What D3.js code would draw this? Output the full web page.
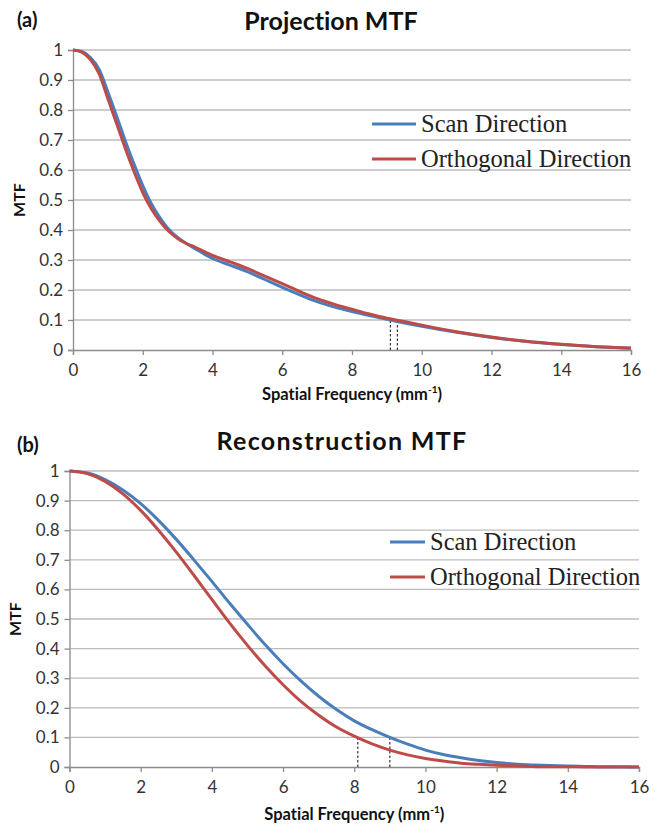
<!DOCTYPE html>
<html>
<head>
<meta charset="utf-8">
<script src="https://cdn.jsdelivr.net/npm/d3@7"></script>
<style>
  html, body { margin: 0; padding: 0; background: #fff; }
  svg { display: block; }
  text { font-variant-ligatures: none; font-feature-settings: "liga" 0, "clig" 0; }
</style>
</head>
<body>
<svg id="chart" width="662" height="830"></svg>
<script>
// ---------------- DATA ----------------
const xTicks = [0, 2, 4, 6, 8, 10, 12, 14, 16];
const yTicks = [0, 0.1, 0.2, 0.3, 0.4, 0.5, 0.6, 0.7, 0.8, 0.9, 1];
const yTickLabels = ["0", "0.1", "0.2", "0.3", "0.4", "0.5", "0.6", "0.7", "0.8", "0.9", "1"];
const seriesNames = ["Scan Direction", "Orthogonal Direction"];

// Panel (a): Projection MTF
const projFreq = [0, 0.25, 0.5, 0.75, 1, 1.25, 1.5, 1.75, 2, 2.25, 2.5, 2.75, 3, 3.25, 3.5, 4, 4.5, 5, 5.5, 6, 6.5, 7, 7.5, 8, 8.5, 9, 9.5, 10, 11, 12, 13, 14, 15, 16];
const projScan = [1.0, 0.995, 0.975, 0.935, 0.86, 0.78, 0.697, 0.62, 0.548, 0.487, 0.44, 0.402, 0.375, 0.355, 0.338, 0.305, 0.283, 0.261, 0.235, 0.209, 0.184, 0.161, 0.143, 0.128, 0.115, 0.102, 0.09, 0.079, 0.059, 0.042, 0.028, 0.018, 0.011, 0.006];
const projOrth = [1.0, 0.993, 0.968, 0.92, 0.838, 0.755, 0.672, 0.595, 0.525, 0.47, 0.428, 0.395, 0.372, 0.355, 0.343, 0.315, 0.294, 0.272, 0.246, 0.221, 0.195, 0.171, 0.152, 0.136, 0.12, 0.106, 0.095, 0.083, 0.061, 0.043, 0.029, 0.019, 0.011, 0.007];
const projCutoffs = [9.1, 9.3];

// Panel (b): Reconstruction MTF
const reconFreq = [0, 0.5, 1, 1.5, 2, 2.5, 3, 3.5, 4, 4.5, 5, 5.5, 6, 6.5, 7, 7.5, 8, 8.5, 9, 9.5, 10, 10.5, 11, 11.5, 12, 12.5, 13, 13.5, 14, 14.5, 15, 15.5, 16];
const reconScan = [1, 0.993, 0.971, 0.936, 0.89, 0.833, 0.769, 0.699, 0.627, 0.553, 0.482, 0.413, 0.349, 0.291, 0.239, 0.194, 0.156, 0.126, 0.1, 0.077, 0.057, 0.042, 0.031, 0.022, 0.015, 0.01, 0.007, 0.005, 0.003, 0.002, 0.001, 0.001, 0];
const reconOrth = [1, 0.991, 0.965, 0.923, 0.867, 0.8, 0.726, 0.647, 0.566, 0.486, 0.411, 0.341, 0.278, 0.222, 0.175, 0.135, 0.104, 0.078, 0.057, 0.041, 0.029, 0.02, 0.013, 0.009, 0.006, 0.004, 0.002, 0.001, 0.001, 0, 0, 0, 0];
const reconCutoffs = [8.1, 9.0];

// ---------------- STYLE ----------------
const colors = ["#4a7ebb", "#be4b48"];
const sansFont = "Lato, 'Open Sans', sans-serif";
const serifFont = "'Liberation Serif', 'Times New Roman', serif";

const svg = d3.select("#chart");

function drawPanel(cfg) {
  const g = svg.append("g");
  const x = d3.scaleLinear().domain([0, 16]).range([cfg.left, cfg.right]);
  const y = d3.scaleLinear().domain([0, 1]).range([cfg.bottom, cfg.top]);

  // gridlines
  g.append("g").selectAll("line").data(yTicks.filter(d => d > 0)).join("line")
    .attr("x1", cfg.left).attr("x2", cfg.right)
    .attr("y1", d => y(d)).attr("y2", d => y(d))
    .attr("stroke", "#bcbcbc").attr("stroke-width", 1.3);

  // y axis
  const yAxis = d3.axisLeft(y).tickValues(yTicks)
    .tickFormat((d, i) => yTickLabels[i]).tickSize(5).tickPadding(5);
  const ya = g.append("g").attr("transform", `translate(${cfg.left},0)`).call(yAxis);
  ya.select(".domain").attr("stroke", "#8c8c8c").attr("stroke-width", 1.3);
  ya.selectAll(".tick line").attr("stroke", "#8c8c8c").attr("stroke-width", 1.3);
  ya.selectAll(".tick text").attr("font-family", sansFont).attr("font-size", 17).attr("fill", "#333");

  // x axis
  const xAxis = d3.axisBottom(x).tickValues(xTicks).tickSize(5).tickPadding(9);
  const xa = g.append("g").attr("transform", `translate(0,${cfg.bottom})`).call(xAxis);
  xa.select(".domain").attr("stroke", "#8c8c8c").attr("stroke-width", 1.3);
  xa.selectAll(".tick line").attr("stroke", "#8c8c8c").attr("stroke-width", 1.3);
  xa.selectAll(".tick text").attr("font-family", sansFont).attr("font-size", 17).attr("fill", "#333");

  // dashed cutoff lines
  g.append("g").selectAll("line").data(cfg.cutoffs).join("line")
    .attr("x1", d => x(d)).attr("x2", d => x(d))
    .attr("y1", y(0)).attr("y2", y(0.1))
    .attr("stroke", "#222").attr("stroke-width", 1.1)
    .attr("stroke-dasharray", "2.5,2");

  // curves
  const line = d3.line().x(d => x(d[0])).y(d => y(d[1])).curve(d3.curveMonotoneX);
  cfg.series.forEach((vals, i) => {
    const pts = cfg.freq.map((f, k) => [f, vals[k]]);
    g.append("path").datum(pts)
      .attr("d", line)
      .attr("fill", "none")
      .attr("stroke", colors[i])
      .attr("stroke-width", 3)
      .attr("stroke-linejoin", "round");
  });

  // legend
  seriesNames.forEach((name, i) => {
    const ly = cfg.legendY[i];
    g.append("line")
      .attr("x1", cfg.legendX).attr("x2", cfg.legendX + cfg.legendLen)
      .attr("y1", ly).attr("y2", ly)
      .attr("stroke", colors[i]).attr("stroke-width", 3);
    g.append("text")
      .attr("x", cfg.legendX + cfg.legendLen + 5).attr("y", ly + 8)
      .attr("font-family", serifFont).attr("font-size", 24.5)
      .attr("fill", "#222")
      .text(name);
  });

  // titles
  g.append("text").attr("x", cfg.labelX).attr("y", cfg.labelY)
    .attr("font-family", sansFont).attr("font-weight", "bold").attr("font-size", 20)
    .attr("fill", "#111").text(cfg.label);
  g.append("text").attr("x", cfg.titleX).attr("y", cfg.titleY)
    .attr("text-anchor", "middle")
    .attr("font-family", sansFont).attr("font-weight", "bold").attr("font-size", 25)
    .attr("letter-spacing", cfg.titleSpacing)
    .attr("fill", "#111").text(cfg.title);

  // axis titles
  const xt = g.append("text").attr("x", (cfg.left + cfg.right) / 2).attr("y", cfg.xTitleY)
    .attr("text-anchor", "middle")
    .attr("font-family", sansFont).attr("font-weight", "bold").attr("font-size", 16.5)
    .attr("fill", "#111");
  xt.append("tspan").text("Spatial Frequency (mm");
  xt.append("tspan").attr("font-size", 10).attr("dy", -7).text("-1");
  xt.append("tspan").attr("dy", 7).text(")");

  g.append("text")
    .attr("transform", `translate(${cfg.yTitleX},${(cfg.top + cfg.bottom) / 2}) rotate(-90)`)
    .attr("text-anchor", "middle")
    .attr("font-family", sansFont).attr("font-weight", "bold").attr("font-size", 16)
    .attr("fill", "#111").text("MTF");
}

drawPanel({
  left: 73, right: 631, top: 50, bottom: 350,
  freq: projFreq, series: [projScan, projOrth], cutoffs: projCutoffs,
  legendX: 372, legendLen: 44, legendY: [124, 159],
  label: "(a)", labelX: 17, labelY: 27,
  title: "Projection MTF", titleX: 331, titleY: 30, titleSpacing: 0,
  xTitleY: 400, yTitleX: 25
});

drawPanel({
  left: 69.5, right: 639, top: 471, bottom: 767,
  freq: reconFreq, series: [reconScan, reconOrth], cutoffs: reconCutoffs,
  legendX: 390, legendLen: 35, legendY: [542, 577],
  label: "(b)", labelX: 17, labelY: 452,
  title: "Reconstruction MTF", titleX: 342, titleY: 450, titleSpacing: 1.3,
  xTitleY: 820, yTitleX: 21
});
</script>
</body>
</html>
